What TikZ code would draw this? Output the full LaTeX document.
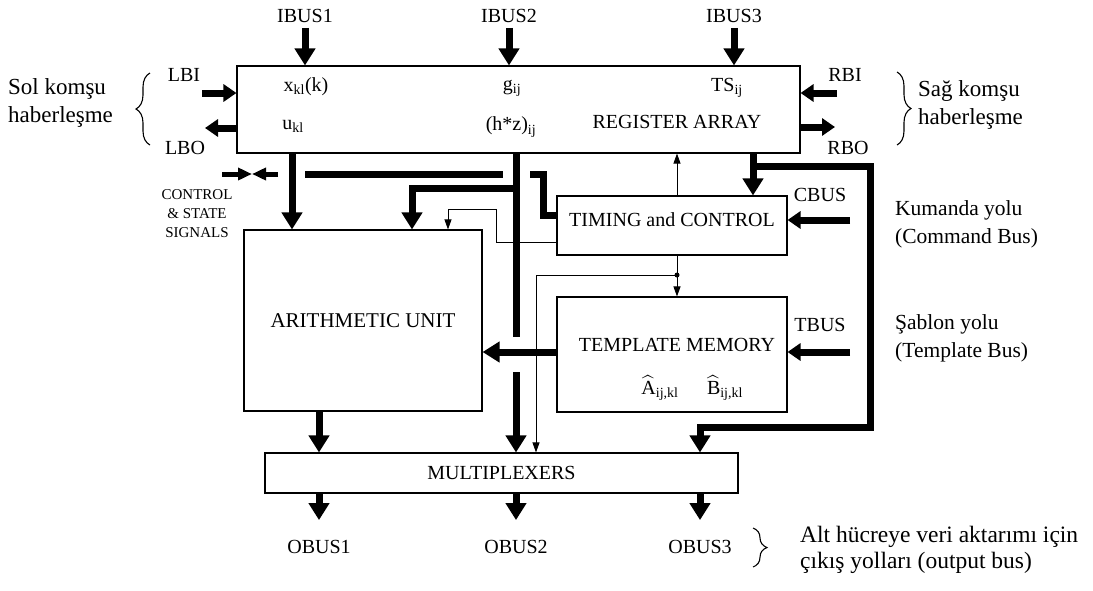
\documentclass[tikz,border=0pt]{standalone}
\usepackage{amsmath}
\usepackage{fontspec}
\setmainfont{Liberation Serif}
\usetikzlibrary{positioning, arrows.meta, decorations.pathreplacing}

\begin{document}
\begin{tikzpicture}[x=1pt, y=-1pt, font=\fontsize{20}{22}\selectfont,
      block/.style={rectangle, draw, line width=1.1pt, inner sep=0pt},
      lbl/.style={inner sep=0pt},
      bus/.style={line width=7pt},
      busarrow/.style={line width=7pt, -{Triangle[width=20pt,length=17pt]}},
      sidearrow/.style={line width=7pt, -{Triangle[width=17pt,length=13pt]}},
      ctlarrow/.style={line width=5pt, -{Triangle[width=12pt,length=14pt]}},
      thinarrow/.style={line width=0.9pt, -{Triangle[width=7pt,length=10pt]}},
      note/.style={align=left, anchor=west, inner sep=0pt, font=\fontsize{23}{28}\selectfont},
      brace/.style={decorate, decoration={brace, amplitude=14pt}, line width=1.1pt}
    ]
      \useasboundingbox (0,0) rectangle (1093,590);

      % blocks
      \node[block, minimum width=563pt, minimum height=87pt] (reg) at (518.5,109.5) {};
      \node[block, minimum width=238pt, minimum height=181pt, font=\fontsize{21}{24}\selectfont] (au) at (363,320.5) {ARITHMETIC UNIT};
      \node[block, minimum width=230pt, minimum height=59pt] (tc) at (672,225.5) {};
      \node[block, minimum width=230pt, minimum height=115pt] (tm) at (672,354.5) {};
      \node[block, minimum width=473pt, minimum height=40pt] (mux) at (501.5,473) {MULTIPLEXERS};

      % texts in the blocks
      \node[lbl] (xkl) at (306,87) {x\textsubscript{kl}(k)};
      \node[lbl] (gij) at (512,88) {g\textsubscript{ij}};
      \node[lbl] (tsij) at (727,88) {TS\textsubscript{ij}};
      \node[lbl] (ukl) at (293,126) {u\textsubscript{kl}};
      \node[lbl] (hz) at (511,127) {(h*z)\textsubscript{ij}};
      \node[lbl] (regname) at (677,122) {REGISTER ARRAY};
      \node[lbl] (tcname) at (672,220) {TIMING and CONTROL};
      \node[lbl] (tmname) at (677,345) {TEMPLATE MEMORY};
      \node[lbl] (ahat) at (660,388) {$\widehat{\text{A}}$\textsubscript{ij,kl}};
      \node[lbl] (bhat) at (725,388) {$\widehat{\text{B}}$\textsubscript{ij,kl}};

      % bus labels
      \node[lbl] (ibus1) at (305,16) {IBUS1};
      \node[lbl] (ibus2) at (509,16) {IBUS2};
      \node[lbl] (ibus3) at (734,16) {IBUS3};
      \node[lbl] (lbi) at (184,75) {LBI};
      \node[lbl] (lbo) at (185,148) {LBO};
      \node[lbl] (rbi) at (845,75) {RBI};
      \node[lbl] (rbo) at (848,148) {RBO};
      \node[lbl] (cbus) at (820,195) {CBUS};
      \node[lbl] (tbus) at (820,325) {TBUS};
      \node[lbl] (obus1) at (319,547) {OBUS1};
      \node[lbl] (obus2) at (516,547) {OBUS2};
      \node[lbl] (obus3) at (700,547) {OBUS3};
      \node[lbl, align=center, font=\fontsize{15}{19}\selectfont] (ctltext) at (197,214) {CONTROL\\\& STATE\\SIGNALS};

      % side notes
      \node[note] (solnote) at (8,103) {Sol komşu\\haberleşme};
      \node[note] (sagnote) at (918,105) {Sağ komşu\\haberleşme};
      \node[note, font=\fontsize{21.5}{28}\selectfont] (cmdnote) at (895,224) {Kumanda yolu\\(Command Bus)};
      \node[note, font=\fontsize{21.5}{28}\selectfont] (tplnote) at (895,338) {Şablon yolu\\(Template Bus)};
      \node[note, font=\fontsize{23.5}{26}\selectfont] (outnote) at (800,550) {Alt hücreye veri aktarımı için\\çıkış yolları (output bus)};

      \draw[brace] (150,145) -- (150,73);
      \draw[brace] (897,72) -- (897,145);
      \draw[brace] (753,528) -- (753,567);

      % helper points
      \coordinate (xU) at (292,0);
      \coordinate (xA) at (319,0);
      \coordinate (xB) at (412,0);
      \coordinate (xT) at (448,0);
      \coordinate (xV) at (516,0);
      \coordinate (xS) at (536,0);
      \coordinate (xC) at (677,0);
      \coordinate (xR) at (753,0);
      \coordinate (xM) at (700,0);
      \coordinate (lbiS) at (202,93);
      \coordinate (lboE) at (205,128);
      \coordinate (rbiS) at (837,93);
      \coordinate (rboE) at (835,127);
      \coordinate (cbusS) at (850,220);
      \coordinate (tbusS) at (850,352);
      \coordinate (ctlL) at (222,174);
      \coordinate (ctlM) at (252,174);
      \coordinate (ctlR) at (278,174);
      \coordinate (ctlK) at (543,215);
      \coordinate (dot) at (677,275);

      % thin control lines
      \draw[thinarrow] (tc.west |- 0,242) -- (496,242) -- (496,209) -| (au.north -| xT);
      \draw[thinarrow] (tc.north -| xC) -- (reg.south -| xC);
      \draw[thinarrow] (tc.south -| xC) -- (tm.north -| xC);
      \draw[thinarrow] (dot) -| (mux.north -| xS);
      \fill (dot) circle (2.5pt);

      % input buses
      \draw[busarrow] ([yshift=-5pt]ibus1.south) -- (ibus1.south |- reg.north);
      \draw[busarrow] ([yshift=-5pt]ibus2.south) -- (ibus2.south |- reg.north);
      \draw[busarrow] ([yshift=-5pt]ibus3.south) -- (ibus3.south |- reg.north);
      \draw[sidearrow] (lbiS) -- (lbiS -| reg.west);
      \draw[sidearrow] (lboE -| reg.west) -- (lboE);
      \draw[sidearrow] (rbiS) -- (rbiS -| reg.east);
      \draw[sidearrow] (rboE -| reg.east) -- (rboE);
      \draw[sidearrow] (cbusS) -- (cbusS -| tc.east);
      \draw[sidearrow] (tbusS) -- (tbusS -| tm.east);

      % control and state signals
      \draw[ctlarrow] (ctlL) -- (ctlM);
      \draw[ctlarrow] (ctlR) -- (ctlM);
      \draw[bus] (305,174) -- (503,174);
      \draw[bus] (530,174) -| (ctlK) -- (ctlK -| tc.west);

      % data buses
      \draw[busarrow] (reg.south -| xU) -- (au.north -| xU);
      \draw[bus] (reg.south -| xV) -- (516,337);
      \draw[busarrow] (516,188) -| (au.north -| xB);
      \draw[busarrow] (516,372) -- (mux.north -| xV);
      \draw[busarrow] (tm.west |- tbusS) -- (au.east |- tbusS);
      \draw[busarrow] (reg.south -| xR) -- (tc.north -| xR);
      \draw[busarrow] (753,166) -- (870,166) -- (870,427) -| (mux.north -| xM);
      \draw[busarrow] (au.south -| xA) -- (mux.north -| xA);

      % output buses
      \draw[busarrow] (mux.south -| xA) -- ([yshift=20pt]obus1.north);
      \draw[busarrow] (mux.south -| xV) -- ([yshift=20pt]obus2.north);
      \draw[busarrow] (mux.south -| xM) -- ([yshift=20pt]obus3.north);
    \end{tikzpicture}
\end{document}
